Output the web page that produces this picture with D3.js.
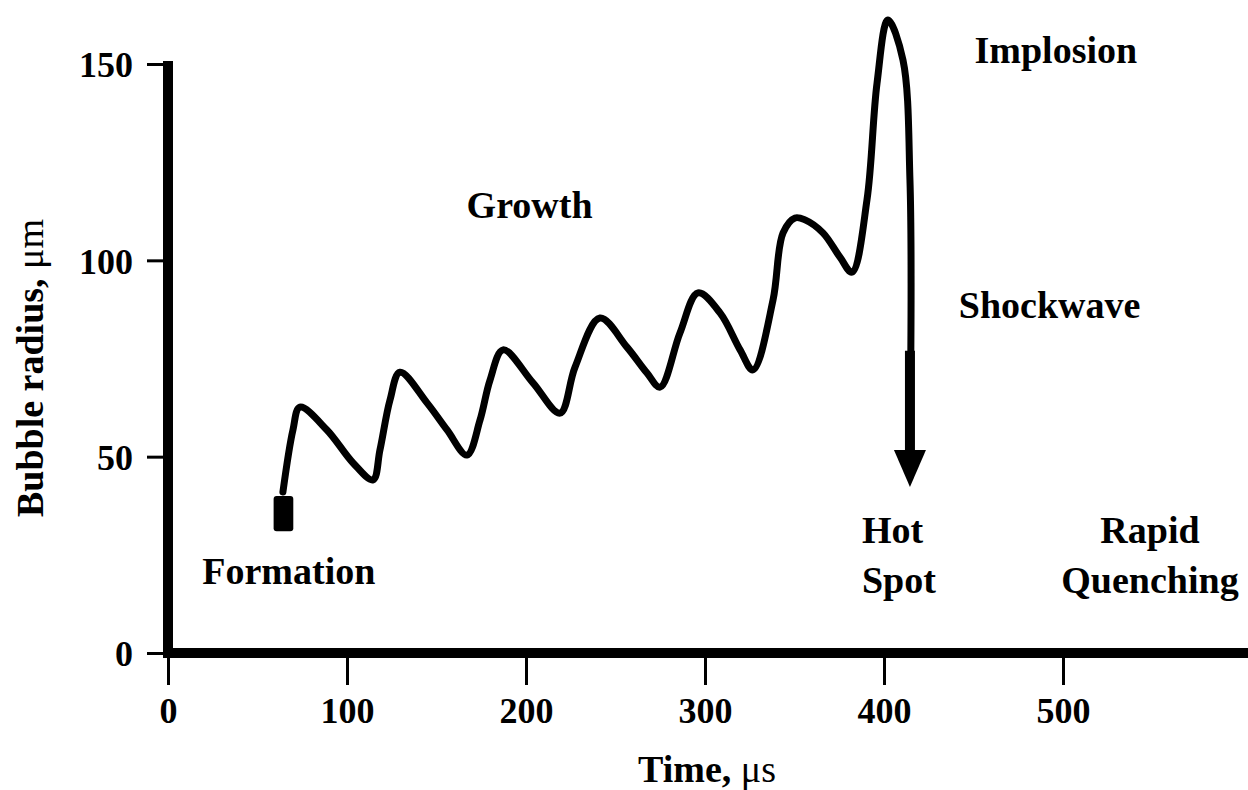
<!DOCTYPE html>
<html>
<head>
<meta charset="utf-8">
<script src="https://cdn.jsdelivr.net/npm/d3@7"></script>
<style>
    html, body { margin: 0; padding: 0; background: #fff; }
    svg { display: block; }
</style>
</head>
<body>
<div id="chart"></div>
<script>
"use strict"

// bubble radius trace: [time us, radius um]
const radius_trace = [
    [64.2, 41.0], [69.8, 56.8], [73.7, 62.6],
    [88.8, 56.8], [103.4, 48.4], [114.5, 44.1],
    [118.4, 51.7], [124.0, 64.4], [129.6, 71.5],
    [144.7, 63.7], [155.9, 56.8], [167.0, 50.4],
    [174.3, 59.3], [179.9, 69.5], [187.2, 77.2],
    [203.9, 68.8], [219.0, 61.1],
    [227.4, 72.8], [241.3, 85.3],
    [256.4, 77.9], [267.6, 71.3], [274.9, 67.7],
    [286.0, 81.5], [296.1, 91.7],
    [308.4, 86.6], [319.6, 77.2], [326.8, 72.1],
    [338.0, 89.9], [343.6, 107.0], [350.3, 110.8], [355.9, 110.3],
    [365.9, 107.0], [375.4, 100.8], [382.1, 97.0],
    [390.5, 115.4], [396.1, 145.1], [402.2, 161.2],
    [410.6, 151.0], [414.5, 120.4], [415.0, 77.0]
];

// small block where the bubble forms [t0, t1, r0, r1]
const formation_block = [59, 70, 31, 40];

// shockwave arrow: time, shaft top, head base, tip
const shock_arrow = [414.5, 77, 51.7, 42.3];

// axis ticks
const x_ticks = [0, 100, 200, 300, 400, 500];
const y_ticks = [0, 50, 100, 150];

// stage labels: text lines, time, radius of first baseline, anchor
const stage_labels = [
    { lines: ['Formation'], t: 67.5, r: 17.5, anchor: 'middle' },
    { lines: ['Growth'], t: 202, r: 110.8, anchor: 'middle' },
    { lines: ['Implosion'], t: 496, r: 150.2, anchor: 'middle' },
    { lines: ['Shockwave'], t: 492.5, r: 85.3, anchor: 'middle' },
    { lines: ['Hot', 'Spot'], t: 387.7, r: 28, anchor: 'start' },
    { lines: ['Rapid', 'Quenching'], t: 548.6, r: 28, anchor: 'middle' }
];

class BubbleChart {

    constructor(div_id) {
        let parent = this;

        parent.width = 1248;
        parent.height = 790;

        //fonts: times-like bold, like the scanned figure
        parent.font = "'Liberation Serif', 'Times New Roman', serif";

        parent.svg = d3.select('#' + div_id)
            .append('svg')
            .attr('width', parent.width)
            .attr('height', parent.height);

        //scales in pixel space of the picture
        parent.x = d3.scaleLinear().domain([0, 500]).range([168, 1063]);
        parent.y = d3.scaleLinear().domain([0, 150]).range([653, 64]);
    }

    draw_axes(parent) {
        const svg = parent.svg;

        //--------x axis--------//
        const x_axis = svg.append('g')
            .attr('transform', 'translate(0,' + parent.y(0) + ')')
            .call(d3.axisBottom(parent.x).tickValues(x_ticks).tickSize(32).tickPadding(12));

        x_axis.select('.domain').remove();
        x_axis.selectAll('line').attr('stroke', '#000').attr('stroke-width', 3);
        x_axis.selectAll('text')
            .attr('font-family', parent.font)
            .attr('font-weight', 'bold')
            .attr('font-size', 36)
            .attr('fill', '#000');

        //--------y axis--------//
        const y_axis = svg.append('g')
            .attr('transform', 'translate(' + parent.x(0) + ',0)')
            .call(d3.axisLeft(parent.y).tickValues(y_ticks).tickSize(21).tickPadding(14));

        y_axis.select('.domain').remove();
        y_axis.selectAll('line').attr('stroke', '#000').attr('stroke-width', 3);
        y_axis.selectAll('text')
            .attr('font-family', parent.font)
            .attr('font-weight', 'bold')
            .attr('font-size', 36)
            .attr('dy', '0.36em')
            .attr('fill', '#000');

        //thick axis lines; x axis runs off the right edge
        svg.append('line')
            .attr('x1', parent.x(0) - 5).attr('x2', parent.width)
            .attr('y1', parent.y(0)).attr('y2', parent.y(0))
            .attr('stroke', '#000').attr('stroke-width', 10);

        svg.append('line')
            .attr('x1', parent.x(0)).attr('x2', parent.x(0))
            .attr('y1', parent.y(150) - 3).attr('y2', parent.y(0) + 5)
            .attr('stroke', '#000').attr('stroke-width', 10);

        //axis titles, the greek unit is set in regular weight
        const x_title = svg.append('text')
            .attr('x', 707).attr('y', 782)
            .attr('text-anchor', 'middle')
            .attr('font-family', parent.font)
            .attr('font-size', 38)
            .attr('font-weight', 'bold');
        x_title.append('tspan').text('Time, ');
        x_title.append('tspan').attr('font-weight', 'normal').text('μs');

        const y_title = svg.append('text')
            .attr('transform', 'translate(43,368) rotate(-90)')
            .attr('text-anchor', 'middle')
            .attr('font-family', parent.font)
            .attr('font-size', 38)
            .attr('font-weight', 'bold');
        y_title.append('tspan').text('Bubble radius, ');
        y_title.append('tspan').attr('font-weight', 'normal').text('μm');
    }

    draw_trace(parent) {
        const x = parent.x, y = parent.y;

        //formation block at the start of the trace
        parent.svg.append('rect')
            .attr('x', x(formation_block[0]))
            .attr('y', y(formation_block[3]))
            .attr('width', x(formation_block[1]) - x(formation_block[0]))
            .attr('height', y(formation_block[2]) - y(formation_block[3]))
            .attr('rx', 3)
            .attr('fill', '#000');

        const line = d3.line()
            .x(d => x(d[0]))
            .y(d => y(d[1]))
            .curve(d3.curveCatmullRom.alpha(0.5));

        parent.svg.append('path')
            .datum(radius_trace)
            .attr('d', line)
            .attr('fill', 'none')
            .attr('stroke', '#000')
            .attr('stroke-width', 7)
            .attr('stroke-linejoin', 'round')
            .attr('stroke-linecap', 'round');

        //shockwave arrow: thick shaft then a head
        const ax = x(shock_arrow[0]);
        parent.svg.append('line')
            .attr('x1', ax).attr('x2', ax)
            .attr('y1', y(shock_arrow[1])).attr('y2', y(shock_arrow[2]) + 2)
            .attr('stroke', '#000').attr('stroke-width', 10);

        const head_half = 16;
        parent.svg.append('path')
            .attr('d', 'M' + (ax - head_half) + ',' + y(shock_arrow[2]) +
                'L' + (ax + head_half) + ',' + y(shock_arrow[2]) +
                'L' + ax + ',' + y(shock_arrow[3]) + 'Z')
            .attr('fill', '#000');
    }

    draw_labels(parent) {
        const label = parent.svg.selectAll('.stage')
            .data(stage_labels)
            .enter()
            .append('text')
            .attr('class', 'stage')
            .attr('text-anchor', d => d.anchor)
            .attr('font-family', parent.font)
            .attr('font-weight', 'bold')
            .attr('font-size', 38)
            .attr('fill', '#000');

        label.selectAll('tspan')
            .data(d => d.lines.map((l, i) => ({ text: l, i: i, d: d })))
            .enter()
            .append('tspan')
            .attr('x', d => parent.x(d.d.t))
            .attr('y', d => parent.y(d.d.r) + d.i * 50)
            .text(d => d.text);
    }

    init(parent) {
        parent.draw_axes(parent);
        parent.draw_trace(parent);
        parent.draw_labels(parent);
    }
}

const bubble_chart = new BubbleChart('chart');
bubble_chart.init(bubble_chart);
</script>
</body>
</html>
